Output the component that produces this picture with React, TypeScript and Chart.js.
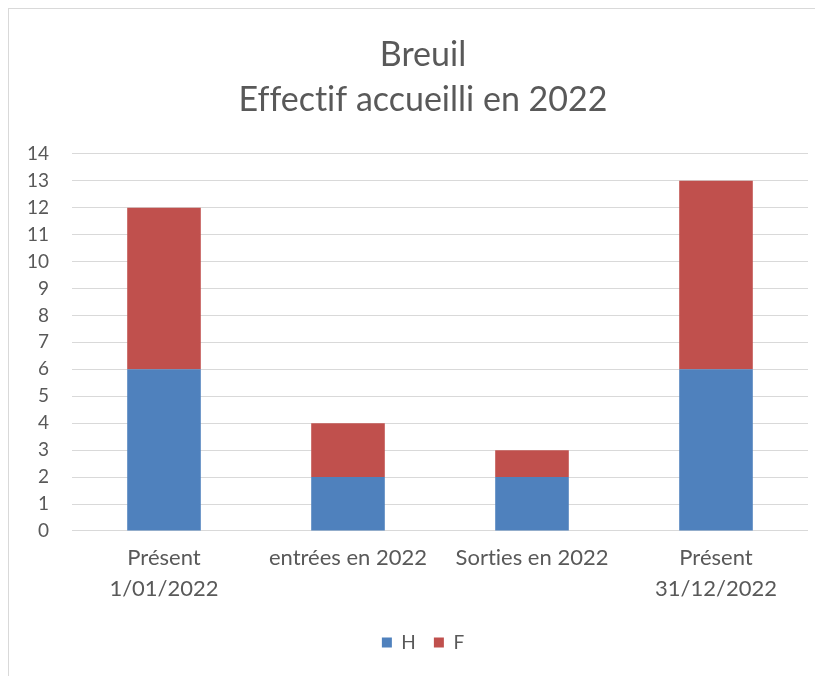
import React, { useEffect, useRef } from "react";
import { Chart, registerables } from "chart.js";

Chart.register(...registerables);

const titleLines = ["Breuil", "Effectif accueilli en 2022"];
const categories: (string | string[])[] = [
  ["Présent", "1/01/2022"],
  "entrées en 2022",
  "Sorties en 2022",
  ["Présent", "31/12/2022"],
];
const seriesH = [6, 2, 2, 6];
const seriesF = [6, 2, 1, 7];
const seriesNames = ["H", "F"];
const yMin = 0;
const yMax = 14;
const yStep = 1;

const FONT = "Lato, 'Open Sans', sans-serif";
const TEXT = "#595959";
const W = 828;
const H = 680;

const noLigatures = {
  id: "noLigatures",
  beforeDraw(chart: any) {
    const ctx = chart.ctx as any;
    if ("textRendering" in ctx) ctx.textRendering = "optimizeSpeed";
  },
};

export default function App() {
  const ref = useRef<HTMLCanvasElement | null>(null);

  useEffect(() => {
    document.documentElement.style.overflow = "hidden";
    const canvas = ref.current;
    if (!canvas) return;
    const chart = new Chart(canvas, {
      type: "bar",
      plugins: [noLigatures],
      data: {
        labels: categories,
        datasets: [
          {
            label: seriesNames[0],
            data: seriesH,
            backgroundColor: "#4F81BD",
            barPercentage: 0.4,
            categoryPercentage: 1,
          },
          {
            label: seriesNames[1],
            data: seriesF,
            backgroundColor: "#C0504D",
            barPercentage: 0.4,
            categoryPercentage: 1,
          },
        ],
      },
      options: {
        responsive: false,
        animation: false,
        layout: { padding: { left: 0, right: 0, top: 0, bottom: 27 } },
        plugins: {
          title: {
            display: true,
            text: titleLines,
            color: TEXT,
            font: { family: FONT, size: 34, weight: "normal", lineHeight: 1.32 },
            padding: { top: 24, bottom: 31 },
          },
          legend: {
            display: true,
            position: "bottom",
            labels: {
              color: TEXT,
              font: { family: FONT, size: 19 },
              boxWidth: 10,
              boxHeight: 10,
              padding: 18,
            },
          },
          tooltip: { enabled: false },
        },
        scales: {
          x: {
            stacked: true,
            grid: { display: false, drawTicks: false },
            border: { display: false },
            ticks: {
              color: TEXT,
              font: { family: FONT, size: 22, lineHeight: 1.41 },
              padding: 11,
              maxRotation: 0,
              autoSkip: false,
            },
          },
          y: {
            stacked: true,
            min: yMin,
            max: yMax,
            grid: { color: "#d9d9d9", lineWidth: 1, drawTicks: false },
            border: { display: false },
            ticks: {
              stepSize: yStep,
              color: TEXT,
              font: { family: FONT, size: 19 },
              padding: 23,
            },
            afterFit: (scale: any) => {
              scale.width = 63;
            },
          },
          yRight: {
            type: "linear",
            position: "right",
            display: true,
            min: yMin,
            max: yMax,
            grid: { display: false, drawTicks: false },
            border: { display: false },
            ticks: { display: false },
            afterFit: (scale: any) => {
              scale.width = 29;
            },
          },
        },
      },
    });
    return () => chart.destroy();
  }, []);

  return (
    <div
      style={{
        width: W,
        height: H,
        border: "1px solid #d9d9d9",
        background: "#fff",
      }}
    >
      <canvas ref={ref} width={W} height={H} style={{ width: W, height: H, display: "block" }} />
    </div>
  );
}
